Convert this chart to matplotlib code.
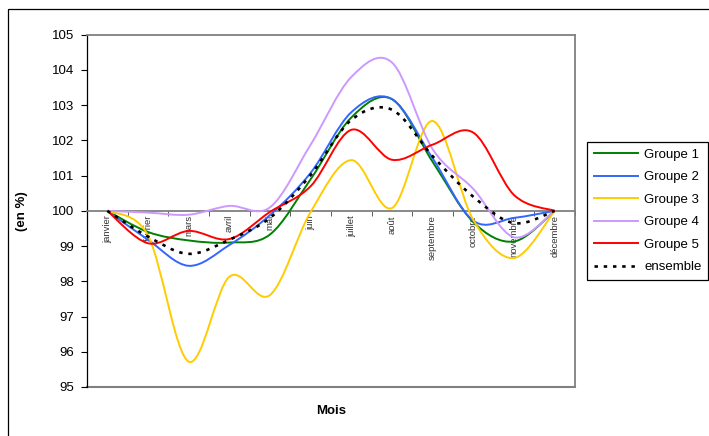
import numpy as np
import matplotlib
matplotlib.use('Agg')
import matplotlib.pyplot as plt
from matplotlib.path import Path
from matplotlib.patches import PathPatch, Rectangle
from matplotlib.lines import Line2D

plt.rcParams['font.family'] = ['Liberation Sans', 'DejaVu Sans']

# --- donnees ---
mois = ['janvier', 'février', 'mars', 'avril', 'mai', 'juin', 'juillet',
        'août', 'septembre', 'octobre', 'novembre', 'décembre']
groupe1 = [100, 99.40, 99.16, 99.10, 99.33, 100.90, 102.65, 103.17, 101.39, 99.68, 99.13, 100]
groupe2 = [100, 99.18, 98.44, 99.03, 99.88, 101.08, 102.80, 103.17, 101.49, 99.72, 99.80, 100]
groupe3 = [100, 99.30, 95.72, 98.13, 97.61, 99.97, 101.44, 100.08, 102.55, 99.74, 98.66, 100]
groupe4 = [100, 99.95, 99.89, 100.14, 100.10, 101.88, 103.80, 104.21, 101.75, 100.62, 99.25, 100]
groupe5 = [100, 99.08, 99.43, 99.20, 99.97, 100.70, 102.30, 101.45, 101.88, 102.22, 100.45, 100]
ensemble = [100, 99.27, 98.78, 99.18, 99.80, 101.02, 102.58, 102.87, 101.55, 100.40, 99.65, 100]

series = [
    ('Groupe 1', groupe1, '#008000', '-'),
    ('Groupe 2', groupe2, '#3366FF', '-'),
    ('Groupe 3', groupe3, '#FFCC00', '-'),
    ('Groupe 4', groupe4, '#CC99FF', '-'),
    ('Groupe 5', groupe5, '#FF0000', '-'),
    ('ensemble', ensemble, 'black', (0, (1.3, 2.2))),
]


def courbe_lisse(x, y):
    # lissage type Excel (Catmull-Rom -> Bezier)
    p = np.column_stack([x, y]).astype(float)
    ext = np.vstack([p[0], p, p[-1]])
    verts = [tuple(p[0])]
    codes = [Path.MOVETO]
    for i in range(len(p) - 1):
        p0, p1, p2, p3 = ext[i], ext[i + 1], ext[i + 2], ext[i + 3]
        c1 = p1 + (p2 - p0) / 6
        c2 = p2 - (p3 - p1) / 6
        verts += [tuple(c1), tuple(c2), tuple(p2)]
        codes += [Path.CURVE4] * 3
    return Path(verts, codes)


fig = plt.figure(figsize=(7.09, 4.36), dpi=100)
ax = fig.add_axes([87 / 709, 1 - 387 / 436, (575 - 87) / 709, (387 - 34.7) / 436])

x = np.arange(1, 13)
handles = []
for nom, vals, col, ls in series:
    lw = 1.9 if nom == 'ensemble' else 1.4
    patch = PathPatch(courbe_lisse(x, vals), facecolor='none', edgecolor=col,
                      linewidth=lw, linestyle=ls, capstyle='butt', zorder=3)
    ax.add_patch(patch)
    handles.append(Line2D([], [], color=col, linewidth=lw, linestyle=ls, label=nom))

ax.set_xlim(0.5, 12.5)
ax.set_ylim(95, 105)

# axe des categories qui croise a 100
ax.spines['bottom'].set_position(('data', 100))
ax.spines['bottom'].set_color('#808080')
ax.spines['bottom'].set_linewidth(1.3)
ax.spines['top'].set_color('#808080')
ax.spines['right'].set_color('#808080')
ax.spines['top'].set_linewidth(1.3)
ax.spines['right'].set_linewidth(1.3)
ax.spines['left'].set_linewidth(0.9)
ax.axhline(95, color='#808080', linewidth=1.5, clip_on=False, zorder=1)

ax.set_xticks(x)
ax.set_xticklabels(mois, rotation=90, va='top', fontsize=6.8, color='#333333')
ax.tick_params(axis='x', which='major', length=0, pad=3)
ax.set_xticks(np.arange(0.5, 13, 1), minor=True)
ax.tick_params(axis='x', which='minor', length=3.5, direction='out', color='#404040')

ax.set_yticks(np.arange(95, 106, 1))
ax.tick_params(axis='y', length=4, direction='out', labelsize=9.5, pad=5)

fig.text(331 / 709, 1 - 411 / 436, 'Mois', ha='center', va='center', fontsize=9.5, weight='bold')
fig.text(22 / 709, 1 - 211 / 436, '(en %)', ha='center', va='center', rotation=90,
         fontsize=9.5, weight='bold')

leg = fig.legend(handles=handles, loc='upper left',
                 bbox_to_anchor=(587 / 709, 1 - 142 / 436), fontsize=9.5,
                 frameon=True, fancybox=False, edgecolor='black', framealpha=1,
                 handlelength=3.4, handletextpad=0.45, labelspacing=0.78,
                 borderpad=0.5, borderaxespad=0)
leg.get_frame().set_linewidth(0.9)

# cadre exterieur
fig.patches.append(Rectangle((8 / 709, -0.2), 1.5, 1.2 - 9 / 436, transform=fig.transFigure,
                             fill=False, edgecolor='black', linewidth=0.9))

fig.savefig('out.png', dpi=100)
